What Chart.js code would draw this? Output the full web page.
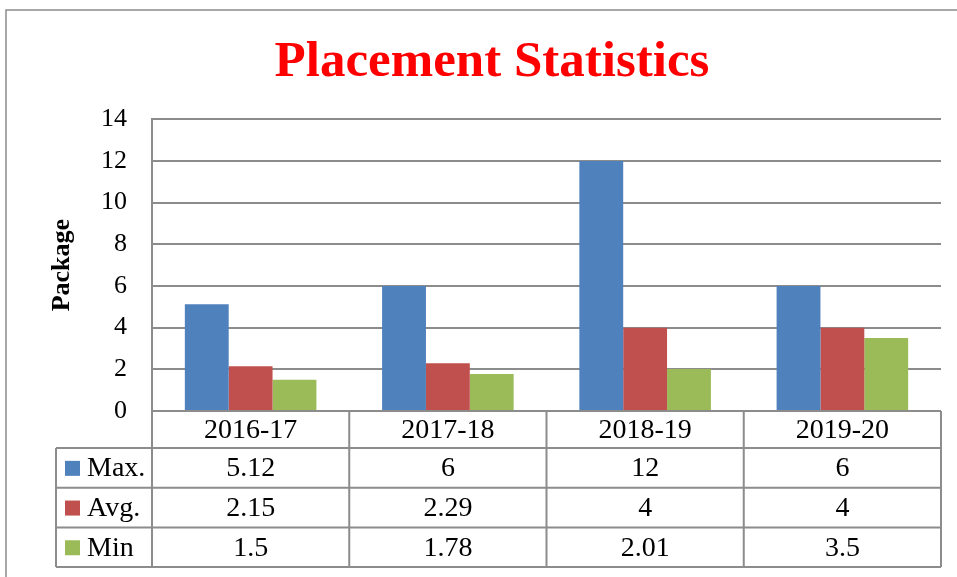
<!DOCTYPE html>
<html>
<head>
<meta charset="utf-8">
<script src="https://cdn.jsdelivr.net/npm/chart.js@4"></script>
<style>
  body { margin: 0; background: #fff; }
  #wrap { width: 957px; height: 577px; }
</style>
</head>
<body>
<div id="wrap"><canvas id="myChart" width="957" height="577"></canvas></div>
<script>
const years = ["2016-17", "2017-18", "2018-19", "2019-20"];
const maxPkg = [5.12, 6, 12, 6];
const avgPkg = [2.15, 2.29, 4, 4];
const minPkg = [1.5, 1.78, 2.01, 3.5];
const seriesNames = ["Max.", "Avg.", "Min"];
const seriesColors = ["#4f81bd", "#c0504d", "#9bbb59"];

const serif = "'Liberation Serif', 'DejaVu Serif', serif";
const lineGray = "#8c8c8c";

// frame + data table under the plot
const tablePlugin = {
  id: "dataTable",
  beforeDraw(chart) {
    const c = chart.ctx;
    c.save();
    c.strokeStyle = lineGray;
    c.lineWidth = 1.5;
    c.beginPath();
    c.moveTo(6, chart.height);
    c.lineTo(6, 10);
    c.lineTo(chart.width, 10);
    c.stroke();
    c.restore();
  },
  afterDraw(chart) {
    const c = chart.ctx;
    const area = chart.chartArea;
    const x = chart.scales.x;
    const catW = x.width / years.length;
    const headH = 37;
    const rowH = 39.7;
    const keyLeft = 56;
    const top = area.bottom;
    const rowsTop = top + headH;
    const bottom = rowsTop + rowH * seriesNames.length;
    const rows = [maxPkg, avgPkg, minPkg];

    c.save();
    c.strokeStyle = lineGray;
    c.lineWidth = 2;
    c.beginPath();
    // horizontal lines
    c.moveTo(area.left, top); c.lineTo(area.right, top);
    for (let r = 0; r <= seriesNames.length; r++) {
      const y = rowsTop + r * rowH;
      c.moveTo(keyLeft, y); c.lineTo(area.right, y);
    }
    // vertical lines
    c.moveTo(keyLeft, rowsTop); c.lineTo(keyLeft, bottom);
    for (let i = 0; i <= years.length; i++) {
      const xx = area.left + i * catW;
      c.moveTo(xx, i === 0 ? area.top : top); c.lineTo(xx, bottom);
    }
    c.stroke();

    c.fillStyle = "#000";
    c.font = "28px " + serif;
    c.textAlign = "center";
    c.textBaseline = "middle";
    years.forEach((lbl, i) => {
      c.fillText(lbl, x.getPixelForValue(i), top + headH / 2 + 1);
    });
    rows.forEach((vals, r) => {
      const cy = rowsTop + r * rowH + rowH / 2 + 1;
      vals.forEach((v, i) => {
        c.fillText(String(v), x.getPixelForValue(i), cy);
      });
      c.fillStyle = seriesColors[r];
      c.fillRect(65, cy - 8, 15, 15);
      c.fillStyle = "#000";
      c.textAlign = "left";
      c.fillText(seriesNames[r], 87, cy);
      c.textAlign = "center";
    });
    c.restore();
  }
};

const ctx = document.getElementById("myChart").getContext("2d");

const data = {
  labels: years,
  datasets: [
    { label: seriesNames[0], data: maxPkg, backgroundColor: seriesColors[0] },
    { label: seriesNames[1], data: avgPkg, backgroundColor: seriesColors[1] },
    { label: seriesNames[2], data: minPkg, backgroundColor: seriesColors[2] },
  ],
};

const config = {
  type: "bar",
  data: data,
  options: {
    responsive: false,
    animation: false,
    devicePixelRatio: 1,
    categoryPercentage: 0.667,
    barPercentage: 1,
    layout: {
      padding: { left: 43, right: 16, top: 0, bottom: 166 },
    },
    plugins: {
      legend: { display: false },
      tooltip: { enabled: false },
      title: {
        display: true,
        text: "Placement Statistics",
        color: "#ff0000",
        font: { family: serif, size: 51, weight: "bold", lineHeight: 1.2 },
        padding: { top: 32, bottom: 26 },
      },
    },
    scales: {
      x: {
        display: false,
      },
      y: {
        min: 0,
        max: 14,
        afterFit(scale) {
          scale.width = 109;
        },
        ticks: {
          stepSize: 2,
          color: "#000",
          padding: 25,
          font: { family: serif, size: 26 },
        },
        grid: {
          color: lineGray,
          lineWidth: 2,
          drawTicks: false,
        },
        border: { display: true, color: lineGray, width: 2 },
        title: {
          display: true,
          text: "Package",
          color: "#000",
          font: { family: serif, size: 26, weight: "bold", lineHeight: 1.2 },
          padding: { top: 4, bottom: 0 },
        },
      },
    },
  },
  plugins: [tablePlugin],
};

new Chart(ctx, config);
</script>
</body>
</html>
